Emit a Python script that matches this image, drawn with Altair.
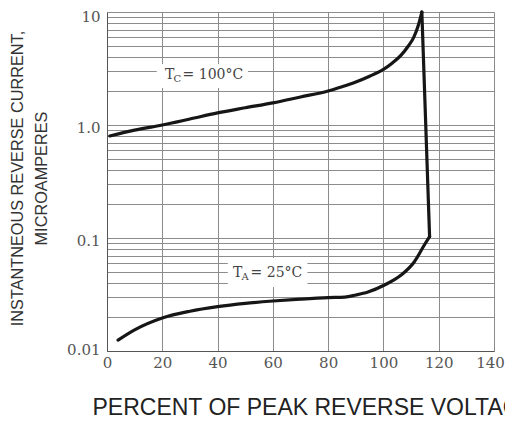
import altair as alt
import pandas as pd

# ---- data ----
x_ticks = [0, 20, 40, 60, 80, 100, 120, 140]
y_grid = [0.01, 0.02, 0.03, 0.04, 0.05, 0.06, 0.07, 0.08, 0.09,
          0.1, 0.2, 0.3, 0.4, 0.5, 0.6, 0.7, 0.8, 0.9,
          1, 2, 3, 4, 5, 6, 7, 8, 9, 10]
y_label_values = [0.01, 0.1, 1, 10]
y_label_texts = ["0.01", "0.1", "1.0", "10"]

# Tc = 100 C curve (rising part)
tc_x = [1, 10, 20, 30, 40, 50, 60, 70, 80, 85, 90, 95, 100, 103, 106.4, 109, 111, 112.6, 113.9]
tc_y = [0.80, 0.90, 1.00, 1.13, 1.28, 1.42, 1.57, 1.77, 2.0, 2.18, 2.4, 2.7, 3.1, 3.5, 4.15, 5.0, 6.0, 7.6, 10]
# breakdown drop
drop_x = [113.9, 116.7]
drop_y = [10, 0.103]
# Ta = 25 C curve
ta_x = [4, 10, 20, 30, 40, 50, 60, 70, 80, 86, 90, 94.4, 100.4, 106.4, 111.2, 114.8, 116.7]
ta_y = [0.0125, 0.0154, 0.0196, 0.0225, 0.0247, 0.0264, 0.0277, 0.0288, 0.0297, 0.0300,
        0.0313, 0.0333, 0.0384, 0.047, 0.0617, 0.0867, 0.103]

# annotation labels
ann_main = ["T", "T"]
ann_sub = ["C", "A"]
ann_rest = ["= 100°C", "= 25°C"]
ann_x = [21.0, 45.6]
ann_y = [2.77, 0.0495]
box_x1 = [18.0, 43.7]
box_x2 = [51.0, 72.5]
box_y1 = [2.13, 0.0368]
box_y2 = [3.47, 0.0665]

# ---- tables ----
tc = pd.DataFrame({"x": tc_x, "y": tc_y, "i": range(len(tc_x))})
drop = pd.DataFrame({"x": drop_x, "y": drop_y, "i": range(len(drop_x))})
ta = pd.DataFrame({"x": ta_x, "y": ta_y, "i": range(len(ta_x))})
ann = pd.DataFrame({"main": ann_main, "sub": ann_sub, "rest": ann_rest,
                    "x": ann_x, "y": ann_y,
                    "bx1": box_x1, "bx2": box_x2, "by1": box_y1, "by2": box_y2})

label_expr = " : ".join(
    f"abs(datum.value - {v}) < 1e-9 ? '{t}'" for v, t in zip(y_label_values, y_label_texts)
) + " : ''"

xscale = alt.Scale(domain=[0, 140], nice=False, zero=False)
yscale = alt.Scale(type="log", domain=[0.01, 10], nice=False)

xaxis = alt.Axis(values=x_ticks, grid=True, gridColor="#8c8c8c", gridWidth=1,
                 ticks=False, domainColor="#555555", domainWidth=1,
                 labelFont="DejaVu Serif", labelFontSize=15, labelColor="#555555",
                 labelPadding=4, labelFlush=False, labelOverlap=False,
                 labelOffset={"condition": {"test": "datum.value > 139", "value": -4},
                              "value": 0},
                 title="PERCENT OF PEAK REVERSE VOLTAGE",
                 titleFont="Liberation Sans", titleFontSize=23, titleFontWeight="normal",
                 titleColor="#222222", titleX=-15, titleY=63.5, titleAlign="left",
                 titleBaseline="alphabetic")
yaxis = alt.Axis(values=y_grid, labelExpr=label_expr, grid=True, gridColor="#8c8c8c",
                 gridWidth=1, ticks=False, domainColor="#555555", domainWidth=1,
                 labelFont="DejaVu Serif", labelFontSize=15, labelColor="#555555",
                 labelPadding=7, labelBaseline="middle", labelOverlap=False, labelFlush=False,
                 labelOffset={"condition": [{"test": "datum.value < 0.011", "value": -2},
                                            {"test": "datum.value > 9.9", "value": 4}],
                              "value": 2.5},
                 title=["INSTANTNEOUS REVERSE CURRENT,", "MICROAMPERES"],
                 titleFont="Liberation Sans", titleFontSize=16.3, titleFontWeight="normal",
                 titleColor="#333333", titleX=-85, titleY=166, titleAngle=270,
                 titleAlign="center", titleBaseline="alphabetic", titleLineHeight=24)


def X(field="x"):
    return alt.X(f"{field}:Q", scale=xscale, axis=xaxis)


def Y(field="y"):
    return alt.Y(f"{field}:Q", scale=yscale, axis=yaxis)


boxes = alt.Chart(ann).mark_rect(color="white").encode(
    x=X("bx1"), x2="bx2", y=Y("by1"), y2="by2")

line_style = dict(color="#161616", strokeWidth=3.2, strokeCap="round", strokeJoin="round")
tc_line = alt.Chart(tc).mark_line(interpolate="monotone", **line_style).encode(
    x=X(), y=Y(), order="i:Q")
drop_line = alt.Chart(drop).mark_line(interpolate="linear", **line_style).encode(
    x=X(), y=Y(), order="i:Q")
ta_line = alt.Chart(ta).mark_line(interpolate="monotone", **line_style).encode(
    x=X(), y=Y(), order="i:Q")

txt_style = dict(font="DejaVu Serif", color="#444444", align="left", baseline="middle")
t_main = alt.Chart(ann).mark_text(fontSize=14, **txt_style).encode(
    x=X(), y=Y(), text="main:N")
t_sub = alt.Chart(ann).mark_text(fontSize=10, dx=8.5, dy=4, **txt_style).encode(
    x=X(), y=Y(), text="sub:N")
t_rest = alt.Chart(ann).mark_text(fontSize=14, dx=17.5, **txt_style).encode(
    x=X(), y=Y(), text="rest:N")

chart = alt.layer(boxes, tc_line, drop_line, ta_line, t_main, t_sub, t_rest).properties(
    width=387, height=339,
    padding={"left": 99, "top": 4, "right": 11, "bottom": 64},
    autosize=alt.AutoSizeParams(type="none"),
    background="white",
).configure_view(strokeWidth=0)

chart.save("out.html", embed_options={"renderer": "svg", "actions": False})
